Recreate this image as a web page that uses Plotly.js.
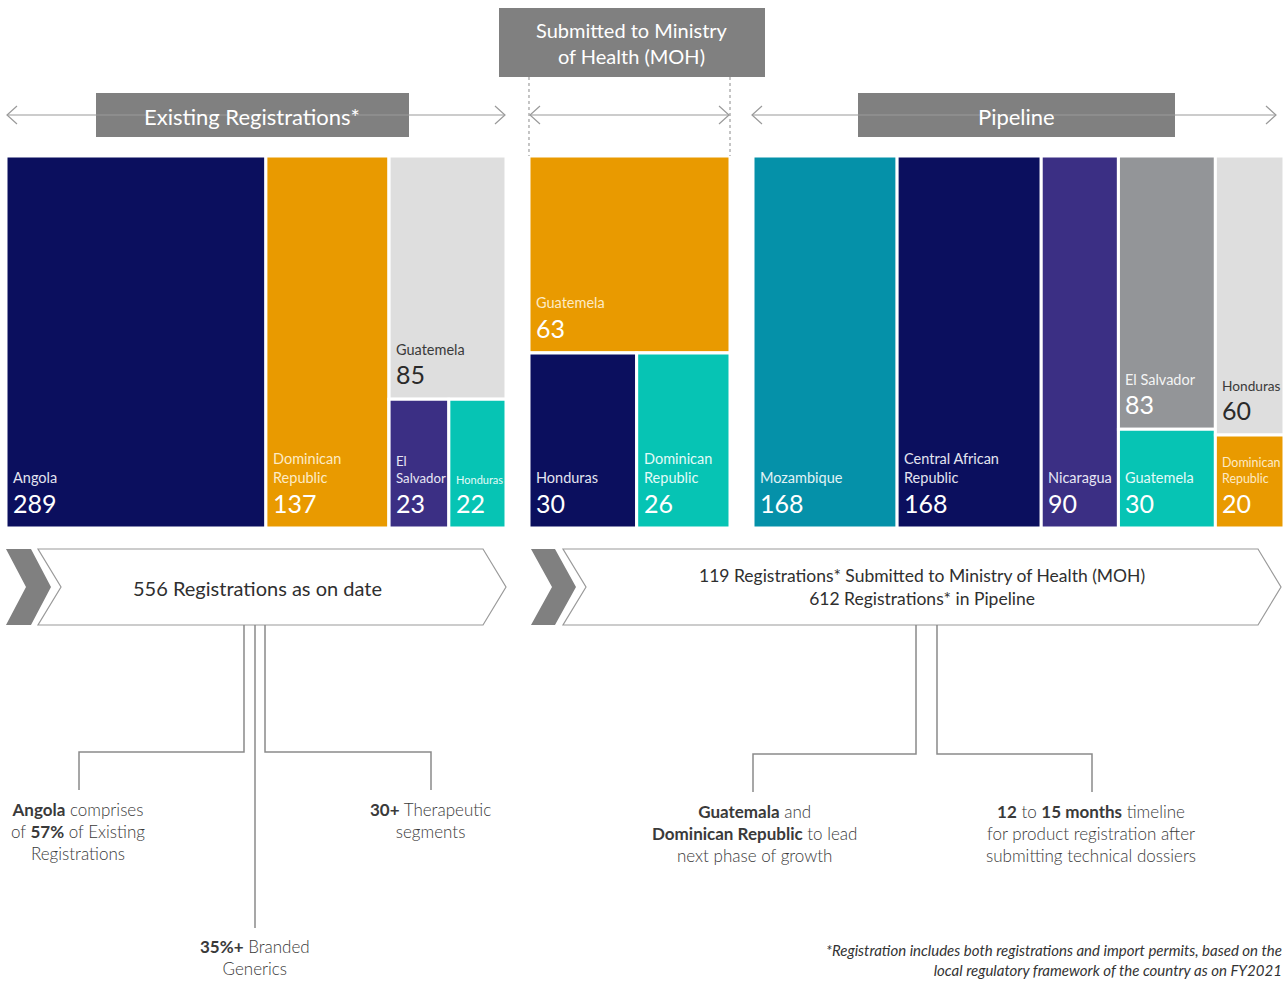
<!DOCTYPE html>
<html><head><meta charset="utf-8">
<script src="https://cdn.plot.ly/plotly-3.0.1.min.js"></script>
<style>html,body{margin:0;padding:0;background:#fff}#chart{width:1284px;height:981px}</style>
</head><body><div id="chart"></div>
<script>
// ---------- DATA ----------
// Existing Registrations*
const existingIds     = ['Angola', 'Dominican Republic', 'E-group', 'Guatemela', 'E-subgroup', 'El Salvador', 'Honduras'];
const existingParents = ['', '', '', 'E-group', 'E-group', 'E-subgroup', 'E-subgroup'];
const existingValues  = [289, 137, 0, 85, 0, 23, 22];

// Submitted to Ministry of Health (MOH)
const submittedIds     = ['Guatemela', 'S-group', 'Honduras', 'Dominican Republic'];
const submittedParents = ['', '', 'S-group', 'S-group'];
const submittedValues  = [63, 0, 30, 26];

// Pipeline
const pipelineIds     = ['Mozambique', 'Central African Republic', 'Nicaragua', 'P-group1', 'El Salvador', 'Guatemela', 'P-group2', 'Honduras', 'Dominican Republic'];
const pipelineParents = ['', '', '', '', 'P-group1', 'P-group1', '', 'P-group2', 'P-group2'];
const pipelineValues  = [168, 168, 90, 0, 83, 30, 0, 60, 20];

const existingTotal = 556, submittedTotal = 119, pipelineTotal = 612;

// ---------- STYLE ----------
const W = 1284, H = 981;
const X = x => x / W, Y = y => 1 - y / H;
const FONT = '"Source Sans Pro", Lato, "Open Sans", sans-serif';
const C = {
  navy: '#0b0f5e', orange: '#e99a00', lgray: '#dedede', purple: '#3b2f84',
  turq: '#06c4b4', teal: '#0591a9', mgray: '#939598', head: '#808080', line: '#9a9a9a'
};
const tileColor = {
  existing: {'Angola': C.navy, 'Dominican Republic': C.orange, 'Guatemela': C.lgray, 'El Salvador': C.purple, 'Honduras': C.turq},
  submitted: {'Guatemela': C.orange, 'Honduras': C.navy, 'Dominican Republic': C.turq},
  pipeline: {'Mozambique': C.teal, 'Central African Republic': C.navy, 'Nicaragua': C.purple, 'El Salvador': C.mgray,
             'Guatemela': C.turq, 'Honduras': C.lgray, 'Dominican Republic': C.orange}
};
const wrapText = {
  existing: {'Dominican Republic': ['Dominican', 'Republic'], 'El Salvador': ['El', 'Salvador']},
  submitted: {'Dominican Republic': ['Dominican', 'Republic']},
  pipeline: {'Dominican Republic': ['Dominican', 'Republic'], 'Central African Republic': ['Central African', 'Republic']}
};
const labelColor = {};
labelColor[C.navy] = '#e4e4f0'; labelColor[C.purple] = '#e8e6f4'; labelColor[C.orange] = '#fdebc6';
labelColor[C.lgray] = '#3a3a3a'; labelColor[C.turq] = '#e4fbf8'; labelColor[C.teal] = '#e2f3f6'; labelColor[C.mgray] = '#f4f4f4';
const valueColor = bg => bg === C.lgray ? '#2a2a2a' : '#ffffff';

const panels = [
  {key: 'existing', ids: existingIds, parents: existingParents, values: existingValues, box: [6, 506, 156, 528], packing: 'slice-dice'},
  {key: 'submitted', ids: submittedIds, parents: submittedParents, values: submittedValues, box: [529, 730, 156, 528], packing: 'dice-slice'},
  {key: 'pipeline', ids: pipelineIds, parents: pipelineParents, values: pipelineValues, box: [753, 1284, 156, 528], packing: 'slice-dice'}
];

function treemap(p) {
  const isGroup = p.ids.map(id => p.parents.includes(id));
  const colors = p.ids.map((id, i) => isGroup[i] ? '#ffffff' : tileColor[p.key][id]);
  return {
    type: 'treemap', ids: p.ids, labels: p.ids.map((id, i) => isGroup[i] ? '' : id), parents: p.parents, values: p.values,
    branchvalues: 'remainder', sort: false, textinfo: 'none',
    marker: {colors: colors, line: {color: '#ffffff', width: 3}, pad: {t: 0, l: 0, r: 0, b: 0}, depthfade: false},
    tiling: {packing: p.packing, pad: 0},
    pathbar: {visible: false},
    domain: {x: [X(p.box[0]), X(p.box[1])], y: [Y(p.box[3]), Y(p.box[2])]},
    hoverinfo: 'skip'
  };
}
const traces = panels.map(treemap);

// ---------- DECORATION ----------
const shapes = [];
function rect(x0, y0, x1, y1, fill) {
  shapes.push({type: 'rect', xref: 'paper', yref: 'paper', x0: X(x0), x1: X(x1), y0: Y(y1), y1: Y(y0),
    fillcolor: fill, line: {width: 0}, layer: 'below'});
}
function path(pts, opts) {
  const d = pts.map((p, i) => (i ? 'L' : 'M') + X(p[0]).toFixed(5) + ',' + Y(p[1]).toFixed(5)).join(' ') + (opts.close ? ' Z' : '');
  shapes.push({type: 'path', xref: 'paper', yref: 'paper', path: d,
    fillcolor: opts.fill || 'rgba(0,0,0,0)', line: {color: opts.color || C.line, width: opts.width === undefined ? 1 : opts.width, dash: opts.dash || 'solid'}});
}
function arrow(xa, xb, y) {
  path([[xa, y], [xb, y]], {width: 1.2});
  path([[xa + 10, y - 9], [xa, y], [xa + 10, y + 9]], {width: 1.2});
  path([[xb - 10, y - 9], [xb, y], [xb - 10, y + 9]], {width: 1.2});
}

rect(96, 93, 409, 137, C.head);
rect(499, 8, 765, 77, C.head);
rect(858, 93, 1175, 137, C.head);
arrow(7, 505, 115);
arrow(530, 729, 115);
arrow(752, 1276, 115);
path([[529, 77], [529, 156]], {dash: 'dot', width: 1, color: '#8a8a8a'});
path([[730, 77], [730, 156]], {dash: 'dot', width: 1, color: '#8a8a8a'});
path([[6, 549], [31, 549], [51, 587], [31, 625], [6, 625], [26, 587]], {close: true, fill: C.head, width: 0});
path([[38, 549], [483, 549], [506, 587], [483, 625], [38, 625], [61, 587]], {close: true, fill: '#ffffff', color: '#9a9a9a', width: 1.2});
path([[531, 549], [555, 549], [576, 587], [555, 625], [531, 625], [552, 587]], {close: true, fill: C.head, width: 0});
path([[563, 549], [1258, 549], [1281, 587], [1258, 625], [563, 625], [586, 587]], {close: true, fill: '#ffffff', color: '#9a9a9a', width: 1.2});
const conn = {color: '#8a8a8a', width: 1.5};
path([[244, 625], [244, 752], [79, 752], [79, 790]], conn);
path([[255, 625], [255, 928]], conn);
path([[265, 625], [265, 752], [431, 752], [431, 790]], conn);
path([[916, 625], [916, 754], [753, 754], [753, 792]], conn);
path([[937, 625], [937, 754], [1092, 754], [1092, 792]], conn);

// ---------- TEXT ----------
const annotations = [];
function txt(text, x, y, o) {
  o = o || {};
  annotations.push({text: text, xref: 'paper', yref: 'paper', x: X(x), y: Y(y), showarrow: false,
    xanchor: o.xa || 'center', yanchor: o.ya || 'middle', align: o.align || 'center', borderpad: 0,
    font: {family: FONT, size: o.size || 17, color: o.color || '#3a3a3a', weight: o.weight || 300, style: o.style || 'normal'}});
}
txt('Existing Registrations*', 252, 116, {size: 22, color: '#ffffff', weight: 400});
txt('Submitted to Ministry<br>of Health (MOH)', 632, 43, {size: 20, color: '#ffffff', weight: 400});
txt('Pipeline', 1016, 116, {size: 22, color: '#ffffff', weight: 400});

txt(existingTotal + ' Registrations as on date', 257, 588, {size: 20, color: '#2f2f2f', weight: 400});
txt(submittedTotal + ' Registrations* Submitted to Ministry of Health (MOH)<br>' + pipelineTotal + ' Registrations* in Pipeline',
    922, 587, {size: 17.5, color: '#2f2f2f', weight: 400});

txt('<b>Angola</b> comprises<br>of <b>57%</b> of Existing<br>Registrations', 78, 798, {ya: 'top'});
txt('<b>30+</b> Therapeutic<br>segments', 430, 798, {ya: 'top'});
txt('<b>35%+</b> Branded<br>Generics', 255, 935, {ya: 'top'});
txt('<b>Guatemala</b> and<br><b>Dominican Republic</b> to lead<br>next phase of growth', 754, 800, {ya: 'top'});
txt('<b>12</b> to <b>15 months</b> timeline<br>for product registration after<br>submitting technical dossiers', 1091, 800, {ya: 'top'});
txt('*Registration includes both registrations and import permits, based on the<br>local regulatory framework of the country as on FY2021',
    1283, 940, {ya: 'top', xa: 'right', align: 'right', size: 15, style: 'italic', color: '#333333', weight: 400});

const layout = {
  width: W, height: H, margin: {l: 0, r: 0, t: 0, b: 0},
  paper_bgcolor: '#ffffff', plot_bgcolor: '#ffffff',
  showlegend: false, shapes: shapes, annotations: annotations,
  font: {family: FONT}
};

const measureCtx = document.createElement('canvas').getContext('2d');
function textWidth(s, size) {
  measureCtx.font = '400 ' + size + 'px ' + FONT;
  return measureCtx.measureText(s).width;
}

const gd = document.getElementById('chart');
Plotly.newPlot(gd, traces, layout, {displayModeBar: false, staticPlot: true}).then(function () {
  // Label each tile from the tile geometry computed by Plotly's treemap layout.
  const origin = gd.getBoundingClientRect();
  const LFS = 14.5, VFS = 25, PADL = 6;
  const tileAnn = [];
  gd.querySelectorAll('.treemaplayer g.trace').forEach(function (tg, ti) {
    const p = panels[ti];
    if (!p) return;
    tg.querySelectorAll('g.slice').forEach(function (sl) {
      const pt = sl.__data__;
      const surf = sl.querySelector('path.surface') || sl.querySelector('path');
      if (!pt || !surf) return;
      const id = pt.data && pt.data.data ? pt.data.data.id : null;
      const idx = p.ids.indexOf(id);
      if (idx < 0 || p.parents.includes(id)) return;
      const r = surf.getBoundingClientRect();
      const left = r.left - origin.left, bottom = r.bottom - origin.top;
      const avail = r.width - PADL - 4;
      const bg = tileColor[p.key][id];
      const lines = wrapText[p.key][id] || [id];
      let lfs = LFS;
      const lw = Math.max.apply(null, lines.map(l => textWidth(l, LFS)));
      if (lw > avail) lfs = Math.max(9, LFS * avail / lw);
      const lsp = lfs * 1.3;
      const valBase = bottom - 16;
      const lblBase = valBase - 29;
      tileAnn.push({text: String(p.values[idx]), xref: 'paper', yref: 'paper', showarrow: false,
        x: X(left + PADL), y: Y(valBase - 0.35 * VFS), xanchor: 'left', yanchor: 'middle', borderpad: 0,
        font: {family: FONT, size: VFS, color: valueColor(bg), weight: 400}});
      tileAnn.push({text: lines.join('<br>'), xref: 'paper', yref: 'paper', showarrow: false, align: 'left',
        x: X(left + PADL), y: Y(lblBase - (lines.length - 1) * lsp / 2 - 0.35 * lfs), xanchor: 'left', yanchor: 'middle', borderpad: 0,
        font: {family: FONT, size: lfs, color: labelColor[bg], weight: 400}});
    });
  });
  return Plotly.relayout(gd, {annotations: annotations.concat(tileAnn)});
});
</script>
</body></html>
